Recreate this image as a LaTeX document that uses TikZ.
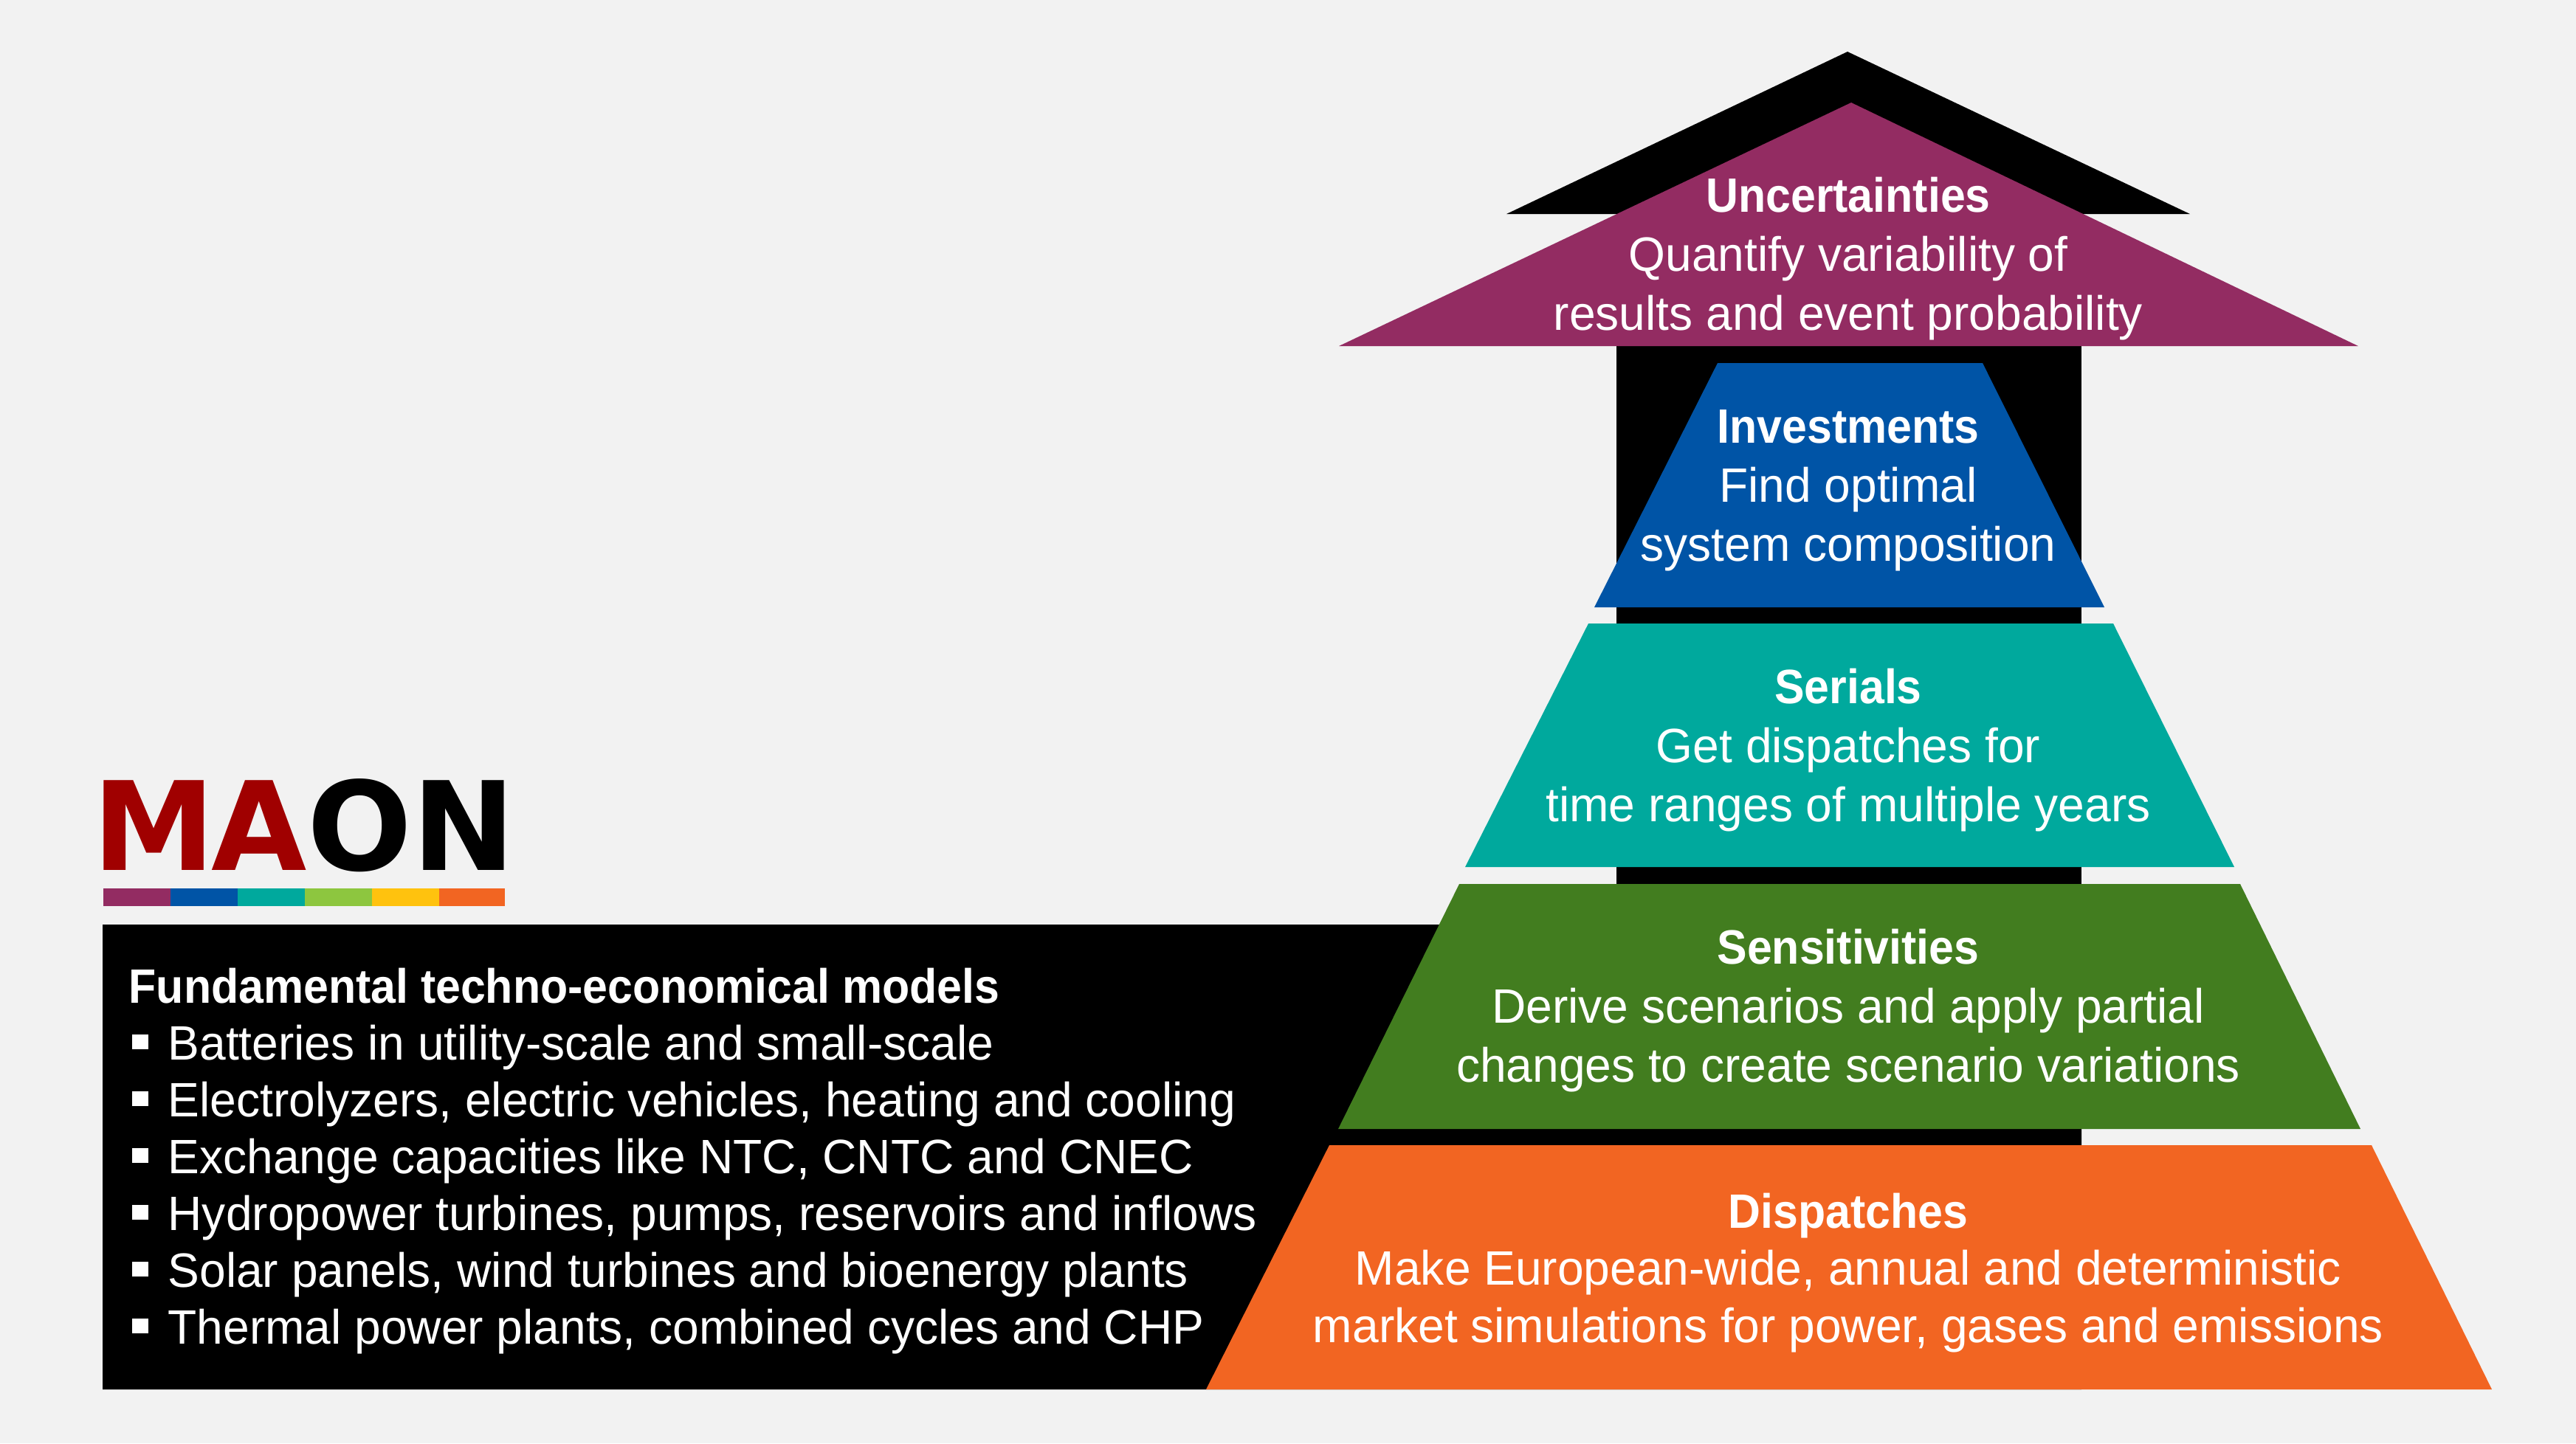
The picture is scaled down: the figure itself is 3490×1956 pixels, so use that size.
\documentclass[tikz,border=0pt]{standalone}
\usepackage{fontspec}
\setmainfont{Liberation Sans}[FakeStretch=0.98,BoldFeatures={FakeStretch=0.93}]
\newfontfamily\logofont{DejaVu Sans}
\definecolor{bgc}{HTML}{F2F2F2}
\definecolor{cpurple}{HTML}{932C62}
\definecolor{cblue}{HTML}{0054A6}
\definecolor{cteal}{HTML}{00A99D}
\definecolor{clime}{HTML}{8DC63F}
\definecolor{cyellow}{HTML}{FFC20E}
\definecolor{corange}{HTML}{F26522}
\definecolor{cgreen}{HTML}{427D1F}
\definecolor{cred}{HTML}{A00000}
\tikzset{
  tiertext/.style={text=white,align=center,anchor=center,inner sep=0pt,font=\fontsize{18.6pt}{22.76pt}\selectfont},
  listtext/.style={text=white,anchor=base west,inner sep=0pt,font=\fontsize{18.6pt}{22pt}\selectfont},
  bulletbox/.style={fill=white,draw=none,minimum width=0.21cm,minimum height=0.2cm,inner sep=0pt},
  logotext/.style={anchor=base west,inner sep=0pt,font=\logofont\bfseries\fontsize{47.5pt}{50pt}\selectfont}
}
\begin{document}
\begin{tikzpicture}[x=0.01cm,y=-0.01cm]
\path[use as bounding box,fill=bgc] (0,0) rectangle (3490,1956);
% black arrow
\fill[black] (2503,70) -- (2967,290) -- (2041,290) -- cycle;
\fill[black] (2190,290) rectangle (2820,1552);
\fill[black] (139,1253) -- (2000,1253) -- (2000,1520) -- (2820,1520) -- (2820,1883) -- (139,1883) -- cycle;
% tiers
\fill[cpurple] (2508,139) -- (3195,469) -- (1814,469) -- cycle;
\fill[cblue] (2327,492) -- (2686,492) -- (2851,823) -- (2160,823) -- cycle;
\fill[cteal] (2152,845) -- (2863,845) -- (3027,1175) -- (1985,1175) -- cycle;
\fill[cgreen] (1977,1198) -- (3035,1198) -- (3198,1530) -- (1813,1530) -- cycle;
\fill[corange] (1801,1552) -- (3213,1552) -- (3376,1883) -- (1634,1883) -- cycle;
% tier labels
\node[tiertext] (t1) at (2504,351) {\textbf{Uncertainties}\\Quantify variability of\\results and event probability};
\node[tiertext] (t2) at (2504,665) {\textbf{Investments}\\Find optimal\\system composition};
\node[tiertext] (t3) at (2504,1017) {\textbf{Serials}\\Get dispatches for\\time ranges of multiple years};
\node[tiertext] (t4) at (2504,1370) {\textbf{Sensitivities}\\Derive scenarios and apply partial\\changes to create scenario variations};
\node[tiertext,font=\fontsize{18.6pt}{22pt}\selectfont] (t5) at (2504,1725) {\textbf{Dispatches}\\Make European-wide, annual and deterministic\\market simulations for power, gases and emissions};
% logo
\node[logotext,text=cred] (lm) at (125,1179) {M};
\node[logotext,text=cred] (la) at (286,1179) {A};
\node[logotext,text=black] (lo) at (416,1179) {O};
\node[logotext,text=black] (ln) at (558,1179) {N};
% colour bar
\fill[cpurple] (140,1204) rectangle (231,1228);
\fill[cblue] (231,1204) rectangle (322,1228);
\fill[cteal] (322,1204) rectangle (413,1228);
\fill[clime] (413,1204) rectangle (504,1228);
\fill[cyellow] (504,1204) rectangle (595,1228);
\fill[corange] (595,1204) rectangle (684,1228);
% list
\node[listtext] (h) at (174,1359) {\textbf{Fundamental techno-economical models}};
\node[listtext] (l1) at (227,1436) {Batteries in utility-scale and small-scale};
\node[listtext] (l2) at (227,1513) {Electrolyzers, electric vehicles, heating and cooling};
\node[listtext] (l3) at (227,1590) {Exchange capacities like NTC, CNTC and CNEC};
\node[listtext] (l4) at (227,1667) {Hydropower turbines, pumps, reservoirs and inflows};
\node[listtext] (l5) at (227,1744) {Solar panels, wind turbines and bioenergy plants};
\node[listtext] (l6) at (227,1821) {Thermal power plants, combined cycles and CHP};
\foreach \y/\n in {1412/b1,1489/b2,1566/b3,1643/b4,1720/b5,1797/b6}
  \node[bulletbox] (\n) at (190,\y) {};
\end{tikzpicture}
\end{document}
